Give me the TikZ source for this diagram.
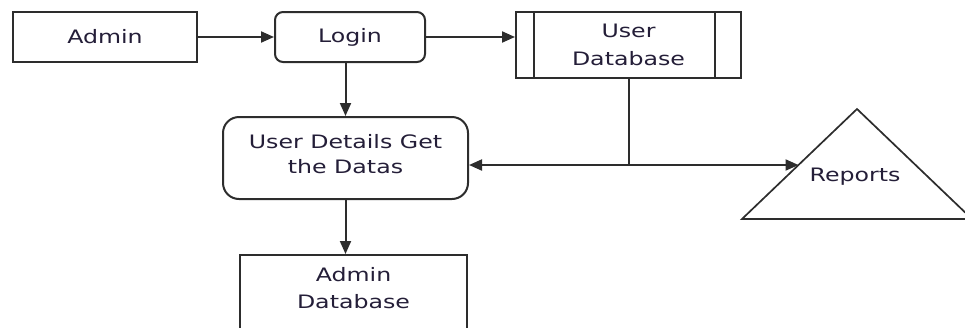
\documentclass[tikz,border=0pt]{standalone}
\usepackage{fontspec}
\setmainfont{DejaVu Sans}[FakeStretch=1.28]
\usetikzlibrary{arrows.meta}
\definecolor{edge}{RGB}{45,45,45}
\definecolor{ink}{RGB}{36,30,56}
\begin{document}
\begin{tikzpicture}[x=1pt,y=-1pt,
  every node/.style={font=\fontsize{18.5}{27}\selectfont, text=ink, align=center, inner sep=0pt},
  box/.style={draw=edge, line width=2pt, fill=white},
  plainline/.style={draw=edge, line width=2pt},
  flow/.style={draw=edge, line width=2pt, -{Triangle[length=13pt,width=11pt]}}
]
\useasboundingbox (0,0) rectangle (965,327);
\clip (0,0) rectangle (965,327);

% process and store boxes
\node[box, minimum width=184pt, minimum height=50pt] (admin) at (105,37) {Admin};
\node[box, rounded corners=8pt, minimum width=150pt, minimum height=50pt] (login) at (350,37) {Login};
\node[box, minimum width=225pt, minimum height=66pt,
      font=\fontsize{18.5}{28}\selectfont] (userdb) at (628.5,45) {User\\Database};
\draw[plainline] ([xshift=19pt]userdb.north west) -- ([xshift=19pt]userdb.south west);
\draw[plainline] ([xshift=-27pt]userdb.north east) -- ([xshift=-27pt]userdb.south east);
\node[box, rounded corners=16pt, minimum width=245pt, minimum height=82pt, text depth=8pt,
      font=\fontsize{18.5}{25}\selectfont] (details) at (345.5,158) {User Details Get\\the Datas};

% admin store runs off the lower edge
\node[box, minimum width=227pt, minimum height=110pt, anchor=north] (admindb) at (353.5,254) {};
\node (admindbtext) at (353.5,288) {Admin\\Database};

% reports triangle
\coordinate (apex) at (857,109);
\coordinate (baseL) at (742,219);
\coordinate (baseR) at (972,219);
\draw[draw=edge, line width=1.7pt, fill=white] (apex) -- (baseL) -- (baseR) -- cycle;
\node (reports) at (855,177) {Reports};

% connectors
\draw[flow] (admin.east) -- (login.west);
\draw[flow] (login.east) -- (login.east -| userdb.west);
\draw[flow] (details.north |- login.south) -- (details.north);
\draw[flow] (details.south) -- (details.south |- admindb.north);
\coordinate (row) at (0,165);
\coordinate (junc) at (userdb.south |- row);
\coordinate (repin) at (798.5,165);
\draw[plainline] (userdb.south) -- (junc);
\draw[flow] (junc) -- (junc -| details.east);
\draw[flow] (junc) -- (repin);
\end{tikzpicture}
\end{document}
